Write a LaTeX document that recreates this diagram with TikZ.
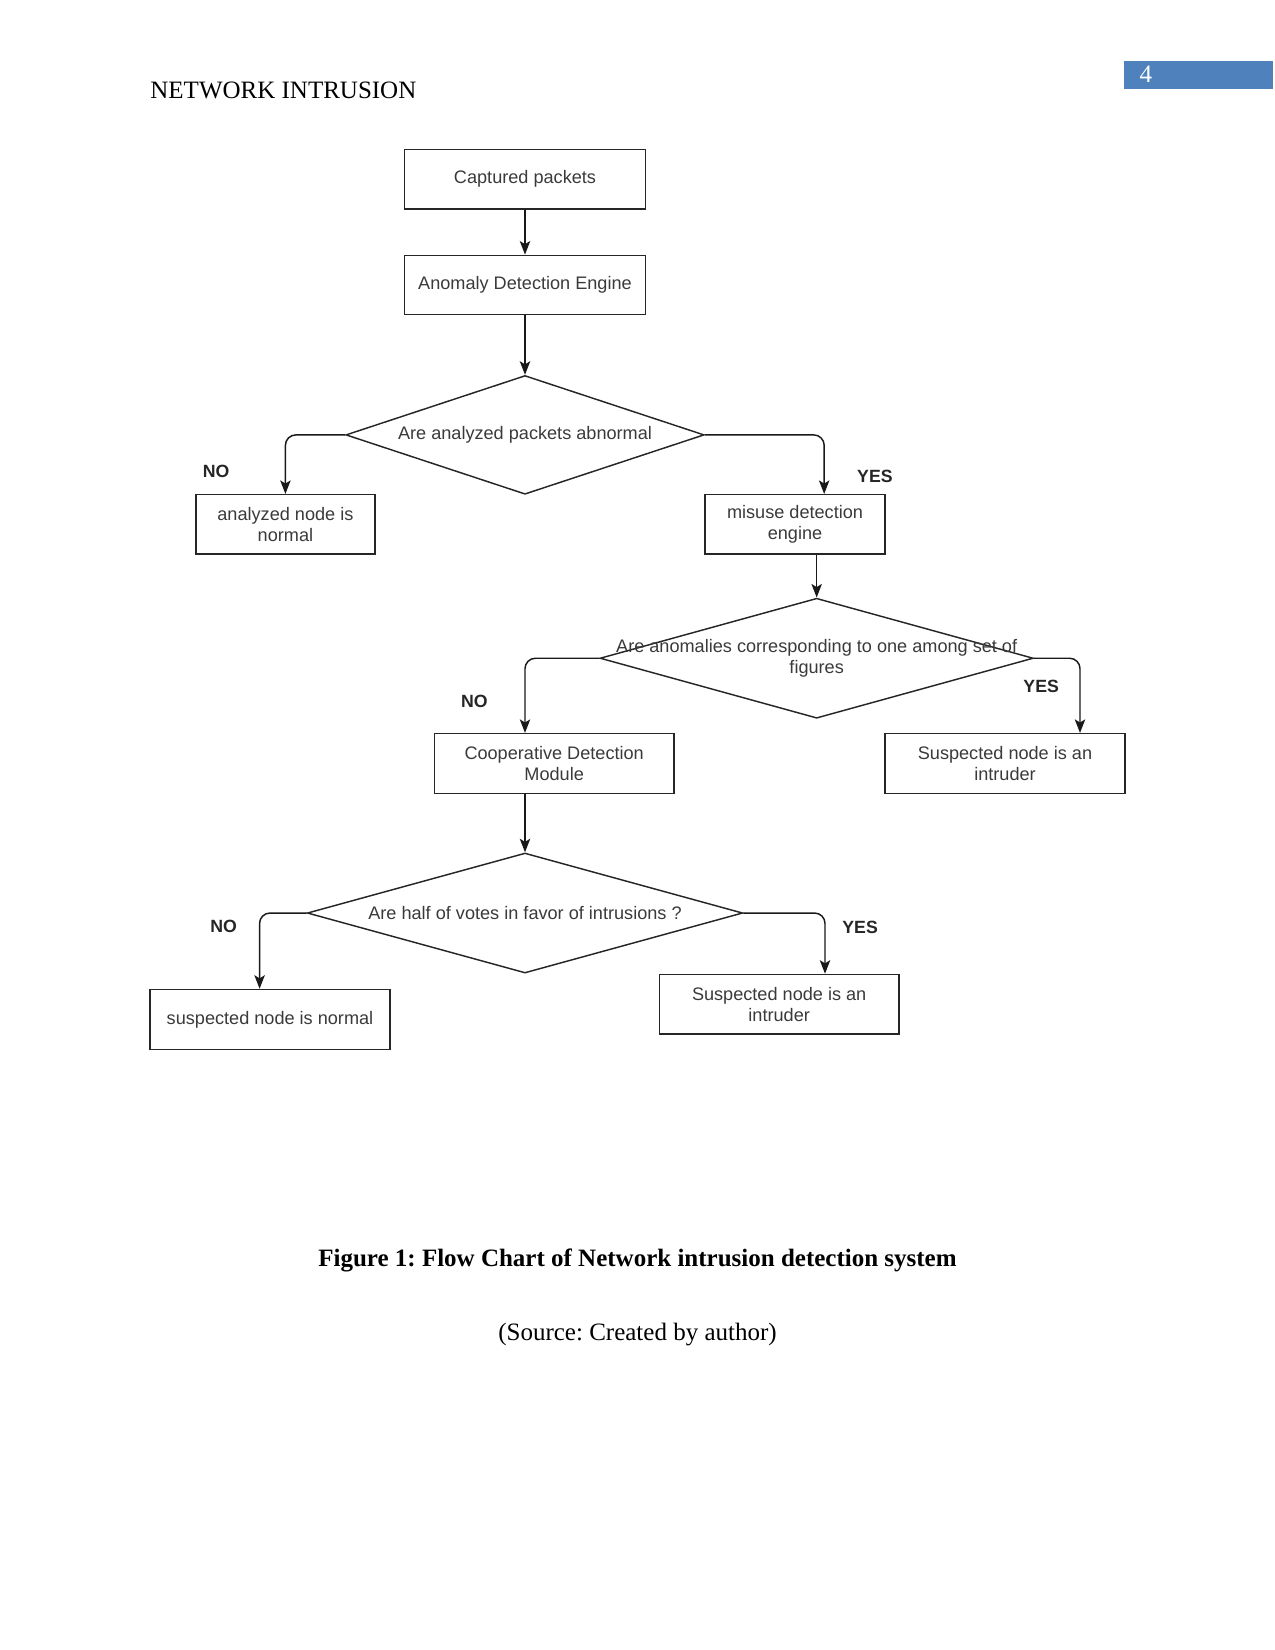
\documentclass[tikz,border=0pt]{standalone}
\usepackage{fontspec}
\setmainfont{Liberation Serif}
\setsansfont{Liberation Sans}
\usepackage{xcolor}
\usetikzlibrary{shapes,arrows,arrows.meta,positioning}
\definecolor{pagebar}{HTML}{4F81BD}
\definecolor{flowtext}{HTML}{3A3A3A}
\frenchspacing

\begin{document}
\begin{tikzpicture}[node distance=20pt, auto]
    % Define styles
    \tikzstyle{process} = [rectangle, minimum width=115.5pt, minimum height=28.5pt, text centered, align=center, draw=black!85, line width=0.7pt, text=flowtext, inner sep=0pt, font=\sffamily\fontsize{8.7}{10.1}\selectfont]
    \tikzstyle{decision} = [diamond, aspect=3, inner sep=0pt, text centered, align=center, draw=black!85, line width=0.7pt, text=flowtext, font=\sffamily\fontsize{8.7}{10.1}\selectfont]
    \tikzstyle{arrow} = [line width=0.7pt, draw=black!90, ->, >={Stealth[length=6.5pt, width=5pt, inset=1.5pt]}, rounded corners=5pt]
    \tikzstyle{answer} = [font=\sffamily\bfseries\fontsize{8.5}{10}\selectfont, text=black!85, inner sep=0pt]

    \useasboundingbox (0,0) rectangle (612pt,-792pt);

    % Page header
    \node [anchor=base west, inner sep=0pt, font=\fontsize{12}{14}\selectfont] (header) at (72pt,-47.5pt) {NETWORK INTRUSION};
    \node [fill=pagebar, minimum width=71.5pt, minimum height=13.4pt, inner sep=0pt] (pagebox) at (575.25pt,-36pt) {};
    \node [anchor=base, text=white, inner sep=0pt, font=\fontsize{12}{14}\selectfont] (pagenum) at (550pt,-39.8pt) {4};

    % Main column
    \node [process] (capt) at (252pt,-86pt) {Captured packets};
    \node [process, below=21.6pt of capt] (anom) {Anomaly Detection Engine};
    \node [decision, minimum width=172pt, minimum height=57pt, below=28.5pt of anom] (abnormal) {Are analyzed packets abnormal};

    % First branch
    \node [process, minimum width=86pt, below=-0.5pt of abnormal, xshift=-115pt] (normal) {analyzed node is\\ normal};
    \node [process, minimum width=86.4pt, below=-0.5pt of abnormal, xshift=129.6pt] (misuse) {misuse detection\\ engine};
    \node [decision, minimum width=208pt, minimum height=57.6pt, below=20.5pt of misuse, xshift=10.4pt] (figures) {\makebox[0pt]{Are anomalies corresponding to one among set of}\\ figures};

    % Second branch
    \node [process, minimum width=115pt, minimum height=28.8pt, below=6.7pt of figures, xshift=-126pt] (coop) {Cooperative Detection\\ Module};
    \node [process, minimum width=115pt, minimum height=28.8pt, below=6.7pt of figures, xshift=90.4pt] (intruder) {Suspected node is an\\ intruder};
    \node [decision, minimum width=209pt, minimum height=57.6pt, below=27.8pt of coop, xshift=-14pt] (votes) {Are half of votes in favor of intrusions ?};

    % Third branch
    \node [process, minimum width=115pt, minimum height=28.8pt, below=7.2pt of votes, xshift=-122.4pt] (suspnormal) {suspected node is normal};
    \node [process, minimum width=115pt, below=0pt of votes, xshift=122pt] (suspintruder) {Suspected node is an\\ intruder};

    % Arrows
    \draw [arrow] (capt) -- (anom);
    \draw [arrow] (anom) -- (abnormal);
    \draw [arrow] (abnormal.west) -| node[answer, pos=0.81, xshift=-40pt] {NO} (normal.north);
    \draw [arrow] (abnormal.east) -| node[answer, pos=0.85, xshift=15.5pt] {YES} ([xshift=14pt]misuse.north);
    \draw [arrow] (misuse.south -| figures.north) -- (figures.north);
    \draw [arrow] (figures.west) -| node[answer, pos=0.79, xshift=-31pt] {NO} ([xshift=-14pt]coop.north);
    \draw [arrow] (figures.east) -| node[answer, pos=0.69, xshift=-27.5pt] {YES} ([xshift=36pt]intruder.north);
    \draw [arrow] (coop.south -| votes.north) -- (votes.north);
    \draw [arrow] (votes.west) -| node[answer, pos=0.59, xshift=-24pt] {NO} ([xshift=-5pt]suspnormal.north);
    \draw [arrow] (votes.east) -| node[answer, pos=0.615, xshift=8pt] {YES} ([xshift=22pt]suspintruder.north);

    % Caption
    \node [anchor=base, inner sep=0pt, font=\bfseries\fontsize{12}{14}\selectfont] (caption) at (306pt,-608pt) {Figure 1: Flow Chart of Network intrusion detection system};
    \node [anchor=base, inner sep=0pt, font=\fontsize{12}{14}\selectfont] (source) at (306pt,-643.5pt) {(Source: Created by author)};

\end{tikzpicture}
\end{document}
